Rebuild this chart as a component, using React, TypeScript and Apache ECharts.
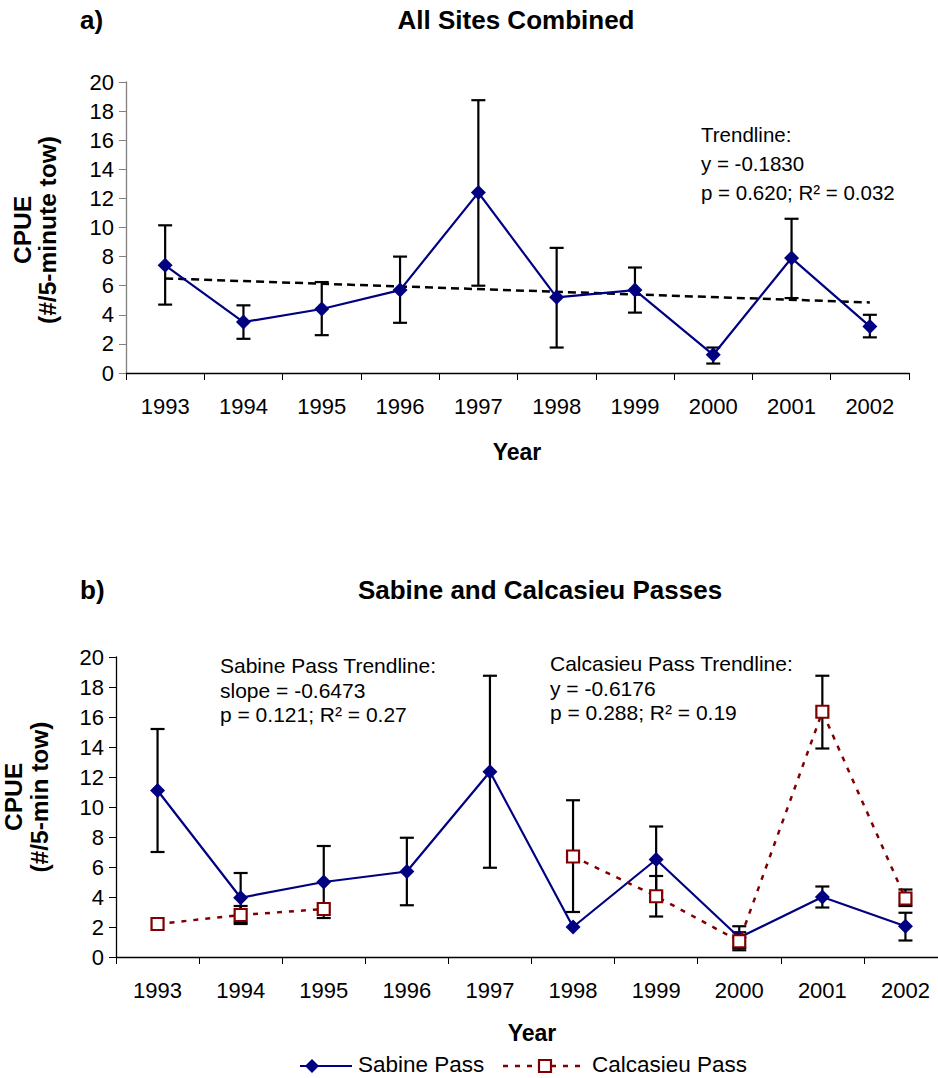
import React, { useEffect, useRef } from "react";
import * as echarts from "echarts";

// Survey years (category axis of both panels)
const years = ["1993", "1994", "1995", "1996", "1997", "1998", "1999", "2000", "2001", "2002"];

// Panel a) all sites combined: mean CPUE with lower / upper error limits
const allMean = [7.4, 3.5, 4.4, 5.7, 12.4, 5.2, 5.7, 1.25, 7.9, 3.2];
const allLow = [4.7, 2.35, 2.6, 3.45, 6.0, 1.75, 4.15, 0.65, 5.15, 2.45];
const allHigh = [10.15, 4.65, 6.25, 8.0, 18.75, 8.6, 7.25, 1.75, 10.6, 4.0];
// Fitted trendline, drawn between its first and last year
const allTrend = [6.5, null, null, null, null, null, null, null, null, 4.85];

// Panel b) Sabine Pass
const sabineMean = [11.1, 3.95, 5.0, 5.7, 12.35, 2.0, 6.5, 1.3, 4.0, 2.05];
const sabineLow = [7.0, 2.3, 2.6, 3.45, 5.95, null, 4.3, 0.6, 3.3, 1.1];
const sabineHigh = [15.2, 5.6, 7.4, 7.95, 18.75, null, 8.7, 2.05, 4.7, 2.95];

// Panel b) Calcasieu Pass (no samples in 1996 and 1997)
const calcMean = [2.2, 2.8, 3.2, null, null, 6.7, 4.05, 1.05, 16.35, 3.9];
const calcLow = [null, 2.2, null, null, null, 3.0, 2.7, 0.45, 13.9, 3.4];
const calcHigh = [null, 3.4, null, null, null, 10.45, 5.4, 1.65, 18.75, 4.5];

const FONT = "'Liberation Sans', Arial, sans-serif";
const NAVY = "#000080";
const MAROON = "#800000";

function errorBars(gridIndex: number, low: (number | null)[], high: (number | null)[]) {
  const data: number[][] = [];
  low.forEach((l, i) => {
    const h = high[i];
    if (l != null && h != null) data.push([i, l, h]);
  });
  return {
    type: "custom",
    xAxisIndex: gridIndex,
    yAxisIndex: gridIndex,
    z: 2,
    encode: { x: 0, y: [1, 2] },
    data,
    renderItem: (_params: any, api: any) => {
      const x = api.value(0);
      const lo = api.coord([x, api.value(1)]);
      const hi = api.coord([x, api.value(2)]);
      const half = 7;
      const style = { stroke: "#000", lineWidth: 2.2 };
      return {
        type: "group",
        children: [
          { type: "line", shape: { x1: lo[0], y1: lo[1], x2: hi[0], y2: hi[1] }, style },
          { type: "line", shape: { x1: hi[0] - half, y1: hi[1], x2: hi[0] + half, y2: hi[1] }, style },
          { type: "line", shape: { x1: lo[0] - half, y1: lo[1], x2: lo[0] + half, y2: lo[1] }, style },
        ],
      };
    },
  };
}

function text(x: number, y: number, s: string, opts: any = {}) {
  return {
    type: "text",
    x,
    y,
    rotation: opts.rotation || 0,
    style: {
      text: s,
      fill: "#000",
      fontFamily: FONT,
      fontSize: opts.fontSize || 21,
      fontWeight: opts.bold ? "bold" : "normal",
      align: opts.align || "left",
      verticalAlign: "middle",
    },
  };
}

function xAxisFor(gridIndex: number) {
  return {
    type: "category",
    gridIndex,
    data: years,
    boundaryGap: true,
    axisLine: { show: true, lineStyle: { color: "#000", width: 1.3 } },
    axisTick: { show: true, length: 7, lineStyle: { color: "#000", width: 1 } },
    axisLabel: { fontSize: 22, color: "#000", fontFamily: FONT, margin: 22 },
    splitLine: { show: false },
  };
}

function yAxisFor(gridIndex: number, color: string) {
  return {
    type: "value",
    gridIndex,
    min: 0,
    max: 20,
    interval: 2,
    axisLine: { show: true, lineStyle: { color, width: 1.3 } },
    axisTick: { show: true, length: 7, lineStyle: { color, width: 1 } },
    axisLabel: { fontSize: 22, color: "#000", fontFamily: FONT, margin: 12 },
    splitLine: { show: false },
  };
}

export default function App() {
  const ref = useRef<HTMLDivElement>(null);

  useEffect(() => {
    if (!ref.current) return;
    const chart = echarts.init(ref.current, undefined, { renderer: "svg" });

    const option: any = {
      animation: false,
      backgroundColor: "#fff",
      grid: [
        { left: 126, top: 82, width: 783, height: 291, containLabel: false, outerBoundsMode: "none" },
        { left: 116, top: 657, width: 831, height: 300, containLabel: false, outerBoundsMode: "none" },
      ],
      xAxis: [xAxisFor(0), xAxisFor(1)],
      yAxis: [yAxisFor(0, "#808080"), yAxisFor(1, "#000")],
      series: [
        {
          name: "Trendline",
          type: "line",
          xAxisIndex: 0,
          yAxisIndex: 0,
          data: allTrend,
          connectNulls: true,
          showSymbol: false,
          symbol: "none",
          z: 1,
          lineStyle: { color: "#000", width: 2.5, type: [8, 5] },
        },
        errorBars(0, allLow, allHigh),
        {
          name: "All Sites",
          type: "line",
          xAxisIndex: 0,
          yAxisIndex: 0,
          data: allMean,
          symbol: "diamond",
          symbolSize: 15,
          z: 3,
          itemStyle: { color: NAVY },
          lineStyle: { color: NAVY, width: 2.2 },
        },
        errorBars(1, sabineLow, sabineHigh),
        errorBars(1, calcLow, calcHigh),
        {
          name: "Sabine Pass",
          type: "line",
          xAxisIndex: 1,
          yAxisIndex: 1,
          data: sabineMean,
          symbol: "diamond",
          symbolSize: 15,
          z: 3,
          itemStyle: { color: NAVY },
          lineStyle: { color: NAVY, width: 2.2 },
        },
        {
          name: "Calcasieu Pass",
          type: "line",
          xAxisIndex: 1,
          yAxisIndex: 1,
          data: calcMean,
          connectNulls: false,
          symbol: "rect",
          symbolSize: 12,
          z: 4,
          itemStyle: { color: "#fff", borderColor: MAROON, borderWidth: 2.2 },
          lineStyle: { color: MAROON, width: 2.5, type: [5, 7] },
        },
      ],
      graphic: [
        // panel a headings
        text(80, 20, "a)", { bold: true, fontSize: 26 }),
        text(516, 20, "All Sites Combined", { bold: true, fontSize: 26, align: "center" }),
        text(22, 230, "CPUE", { bold: true, fontSize: 24.5, align: "center", rotation: Math.PI / 2 }),
        text(47, 230, "(#/5-minute tow)", { bold: true, fontSize: 24.5, align: "center", rotation: Math.PI / 2 }),
        text(517, 452, "Year", { bold: true, fontSize: 23, align: "center" }),
        text(701, 134, "Trendline:", { fontSize: 20.5 }),
        text(701, 163, "y = -0.1830", { fontSize: 20.5 }),
        text(701, 192, "p = 0.620; R² = 0.032", { fontSize: 20.5 }),

        // panel b headings
        text(80, 590, "b)", { bold: true, fontSize: 26 }),
        text(540, 590, "Sabine and Calcasieu Passes", { bold: true, fontSize: 26, align: "center" }),
        text(13, 797, "CPUE", { bold: true, fontSize: 24.5, align: "center", rotation: Math.PI / 2 }),
        text(39, 797, "(#/5-min tow)", { bold: true, fontSize: 24.5, align: "center", rotation: Math.PI / 2 }),
        text(532, 1033, "Year", { bold: true, fontSize: 23, align: "center" }),
        text(220, 665, "Sabine Pass Trendline:", { fontSize: 21 }),
        text(220, 690, "slope = -0.6473", { fontSize: 21 }),
        text(220, 714, "p = 0.121; R² = 0.27", { fontSize: 21 }),
        text(550, 663, "Calcasieu Pass Trendline:", { fontSize: 21 }),
        text(550, 688, "y = -0.6176", { fontSize: 21 }),
        text(550, 712, "p = 0.288; R² = 0.19", { fontSize: 21 }),

        // legend
        {
          type: "line",
          shape: { x1: 300, y1: 1066, x2: 352, y2: 1066 },
          style: { stroke: NAVY, lineWidth: 2.2 },
        },
        {
          type: "polygon",
          shape: { points: [[312, 1059], [319, 1066], [312, 1073], [305, 1066]] },
          style: { fill: NAVY },
        },
        text(358, 1064, "Sabine Pass", { fontSize: 22.5 }),
        {
          type: "line",
          shape: { x1: 503, y1: 1066, x2: 587, y2: 1066 },
          style: { stroke: MAROON, lineWidth: 2.5, lineDash: [5, 7] },
        },
        {
          type: "rect",
          shape: { x: 539, y: 1060, width: 12, height: 12 },
          style: { fill: "#fff", stroke: MAROON, lineWidth: 2.2 },
        },
        text(592, 1064, "Calcasieu Pass", { fontSize: 22.5 }),
      ],
    };

    chart.setOption(option);
    return () => chart.dispose();
  }, []);

  return (
    <div
      ref={ref}
      style={{ position: "fixed", left: 0, top: 0, width: 938, height: 1078, background: "#fff" }}
    />
  );
}
